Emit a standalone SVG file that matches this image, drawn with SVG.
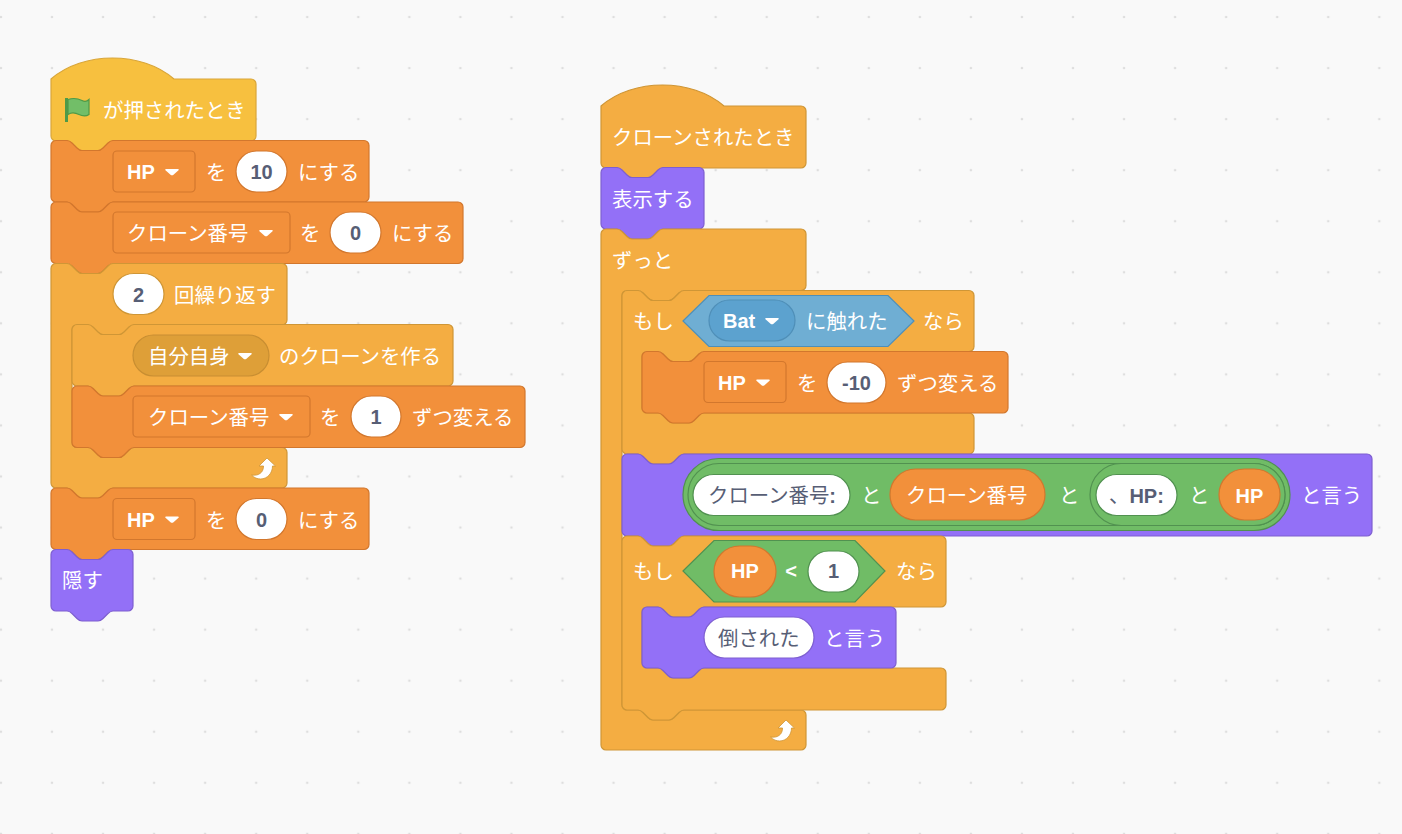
<svg xmlns="http://www.w3.org/2000/svg" xmlns:xlink="http://www.w3.org/1999/xlink" width="1402" height="834" viewBox="0 0 1402 834">
<style>
text{font-family:"Liberation Sans","Noto Sans CJK JP",sans-serif;font-size:20.4px;fill:#fff;transform:translateY(1px)}
.b{font-weight:700;font-size:20px;transform:none}
tspan.b{font-size:20px}
.d{fill:#575E75}
.m{text-anchor:middle}
.hat{fill:#F7C03F;stroke:#D9A63A}
.ctl{fill:#F4AD42;stroke:#CF9636}
.var{fill:#F2903B;stroke:#D2772D}
.lk{fill:#9370F7;stroke:#7E5FD0}
.grn{fill:#70BC66;stroke:#519150}
.sen{fill:#6FAED3;stroke:#4F8FB8}
.pill{fill:#5CA2CF;stroke:#4F8FB8}
.menu{fill:#DE9F38;stroke:#C88E32}
.wo{fill:#fff;stroke:#D2772D}
.wc{fill:#fff;stroke:#CF9636}
.wg{fill:#fff;stroke:#519150}
.wp{fill:#fff;stroke:#7E5FD0}
path,rect{stroke-width:1.2}
</style>
<defs>
<pattern id="grid" x="26.5" y="-8.5" width="51.05" height="51.05" patternUnits="userSpaceOnUse"><circle cx="25.5" cy="25.5" r="1.3" fill="#DEDEDE"/></pattern>
<path id="tri" d="M-6-3H6C6.800-3 7-2.200 6.500-1.700L1.500 2.700Q0 4-1.500 2.700L-6.500-1.700C-7-2.200-6.800-3-6-3z" fill="#fff" style="stroke:none"/>
<path id="arrow" d="M267 458L275.500 466H272.500C272.500 473 267.500 479 260.500 479C257.500 479 254.500 478 251.500 475C255.500 475.500 258 475 260 473.500C262.500 472 263.500 469 263.500 466H259Z" fill="#fff" stroke="#CF9636" stroke-linejoin="round" style="stroke-width:.8"/>
</defs>
<rect width="1402" height="834" fill="#F9F9F9" style="stroke:none"/>
<rect width="1402" height="834" fill="url(#grid)" style="stroke:none"/>

<g id="stack-left">
<g id="hat-flag">
<path class="hat" d="M51 79c32-28 91-28 123 0H251a5 5 0 0 1 5 5V136a5 5 0 0 1-5 5H113c-2.500 0-3.800 1.300-5 2.500l-5 5c-1.300 1.300-2.500 2.500-5 2.500h-16c-2.500 0-3.800-1.300-5-2.500l-5-5c-1.300-1.300-2.500-2.500-5-2.500H56a5 5 0 0 1-5-5z"/>
<path d="M68 99.500c6-2 10-1 14 1c3 1.500 5 1 7-1V114.500c-3 2-6 2-10 0c-4-2-8-2-11 0z" fill="#72BE68" stroke="#4E9A48"/>
<path d="M66.500 98V122" stroke="#4E9A48" style="stroke-width:3" fill="none"/>
<text x="103" y="117">が押されたとき</text>
</g>
<g id="set-hp-10">
<path class="var" d="M51 145.500a5 5 0 0 1 5-5h11c2.500 0 3.800 1.300 5 2.500l5 5c1.300 1.300 2.500 2.500 5 2.500h16c2.500 0 3.800-1.300 5-2.500l5-5c1.300-1.300 2.500-2.500 5-2.500H364a5 5 0 0 1 5 5V197a5 5 0 0 1-5 5H113c-2.500 0-3.800 1.300-5 2.500l-5 5c-1.300 1.300-2.500 2.500-5 2.500h-16c-2.500 0-3.800-1.300-5-2.500l-5-5c-1.300-1.300-2.500-2.500-5-2.500H56a5 5 0 0 1-5-5z"/>
<rect class="var" x="113" y="151" width="82" height="41" rx="4"/>
<text class="b" x="127" y="179">HP</text><use href="#tri" x="172" y="172"/>
<text x="206" y="179">を</text>
<rect class="wo" x="236" y="151" width="51" height="41" rx="20.500"/>
<text class="b d m" x="261.500" y="179">10</text>
<text x="298" y="179">にする</text>
</g>
<g id="set-clone-0">
<path class="var" d="M51 207a5 5 0 0 1 5-5h11c2.500 0 3.800 1.300 5 2.500l5 5c1.300 1.300 2.500 2.500 5 2.500h16c2.500 0 3.800-1.300 5-2.500l5-5c1.300-1.300 2.500-2.500 5-2.500H458a5 5 0 0 1 5 5V258.500a5 5 0 0 1-5 5H113c-2.500 0-3.800 1.300-5 2.500l-5 5c-1.300 1.300-2.500 2.500-5 2.500h-16c-2.500 0-3.800-1.300-5-2.500l-5-5c-1.300-1.300-2.500-2.500-5-2.500H56a5 5 0 0 1-5-5z"/>
<rect class="var" x="113" y="212" width="177" height="41" rx="4"/>
<text x="127" y="240">クローン番号</text><use href="#tri" x="266" y="233"/>
<text x="300" y="240">を</text>
<rect class="wo" x="330" y="212" width="51" height="41" rx="20.500"/>
<text class="b d m" x="355.500" y="240">0</text>
<text x="392" y="240">にする</text>
</g>
<g id="repeat">
<path class="ctl" d="M51 268.500a5 5 0 0 1 5-5h11c2.500 0 3.800 1.300 5 2.500l5 5c1.300 1.300 2.500 2.500 5 2.500h16c2.500 0 3.800-1.300 5-2.500l5-5c1.300-1.300 2.500-2.500 5-2.500H282a5 5 0 0 1 5 5V320a5 5 0 0 1-5 5H134c-2.500 0-3.800 1.300-5 2.500l-5 5c-1.300 1.300-2.500 2.500-5 2.500h-16c-2.500 0-3.800-1.300-5-2.500l-5-5c-1.300-1.300-2.500-2.500-5-2.500H77a5 5 0 0 0-5 5V442.500a5 5 0 0 0 5 5h11c2.500 0 3.800 1.300 5 2.500l5 5c1.300 1.300 2.500 2.500 5 2.500h16c2.500 0 3.800-1.300 5-2.500l5-5c1.300-1.300 2.500-2.500 5-2.500H282a5 5 0 0 1 5 5V483a5 5 0 0 1-5 5H113c-2.500 0-3.800 1.300-5 2.500l-5 5c-1.300 1.300-2.500 2.500-5 2.500h-16c-2.500 0-3.800-1.300-5-2.500l-5-5c-1.300-1.300-2.500-2.500-5-2.500H56a5 5 0 0 1-5-5z"/>
<rect class="wc" x="113" y="273.500" width="51" height="41" rx="20.500"/>
<text class="b d m" x="138.500" y="301.500">2</text>
<text x="174" y="302">回繰り返す</text>
<use href="#arrow"/>
</g>
<g id="create-clone">
<path class="ctl" d="M72 329.500a5 5 0 0 1 5-5h11c2.500 0 3.800 1.300 5 2.500l5 5c1.300 1.300 2.500 2.500 5 2.500h16c2.500 0 3.800-1.300 5-2.500l5-5c1.300-1.300 2.500-2.500 5-2.500H448a5 5 0 0 1 5 5V381a5 5 0 0 1-5 5H134c-2.500 0-3.800 1.300-5 2.500l-5 5c-1.300 1.300-2.500 2.500-5 2.500h-16c-2.500 0-3.800-1.300-5-2.500l-5-5c-1.300-1.300-2.500-2.500-5-2.500H77a5 5 0 0 1-5-5z"/>
<rect class="menu" x="133" y="335" width="136" height="41" rx="20.500"/>
<text x="148" y="363">自分自身</text><use href="#tri" x="245" y="356"/>
<text x="279" y="363">のクローンを作る</text>
</g>
<g id="change-clone">
<path class="var" d="M72 391a5 5 0 0 1 5-5h11c2.500 0 3.800 1.300 5 2.500l5 5c1.300 1.300 2.500 2.500 5 2.500h16c2.500 0 3.800-1.300 5-2.500l5-5c1.300-1.300 2.500-2.500 5-2.500H520a5 5 0 0 1 5 5V442.500a5 5 0 0 1-5 5H134c-2.500 0-3.800 1.300-5 2.500l-5 5c-1.300 1.300-2.500 2.500-5 2.500h-16c-2.500 0-3.800-1.300-5-2.500l-5-5c-1.300-1.300-2.500-2.500-5-2.500H77a5 5 0 0 1-5-5z"/>
<rect class="var" x="133" y="396" width="177" height="41" rx="4"/>
<text x="148" y="424">クローン番号</text><use href="#tri" x="286" y="417"/>
<text x="320" y="424">を</text>
<rect class="wo" x="351" y="396" width="50" height="41" rx="20.500"/>
<text class="b d m" x="376" y="424">1</text>
<text x="412" y="424">ずつ変える</text>
</g>
<g id="set-hp-0">
<path class="var" d="M51 493a5 5 0 0 1 5-5h11c2.500 0 3.800 1.300 5 2.500l5 5c1.300 1.300 2.500 2.500 5 2.500h16c2.500 0 3.800-1.300 5-2.500l5-5c1.300-1.300 2.500-2.500 5-2.500H364a5 5 0 0 1 5 5V544.500a5 5 0 0 1-5 5H113c-2.500 0-3.800 1.300-5 2.500l-5 5c-1.300 1.300-2.500 2.500-5 2.500h-16c-2.500 0-3.800-1.300-5-2.500l-5-5c-1.300-1.300-2.500-2.500-5-2.500H56a5 5 0 0 1-5-5z"/>
<rect class="var" x="113" y="498.500" width="82" height="41" rx="4"/>
<text class="b" x="127" y="526.500">HP</text><use href="#tri" x="172" y="519.500"/>
<text x="206" y="527">を</text>
<rect class="wo" x="236" y="498.500" width="51" height="41" rx="20.500"/>
<text class="b d m" x="261.500" y="526.500">0</text>
<text x="298" y="527">にする</text>
</g>
<g id="hide">
<path class="lk" d="M51 554.500a5 5 0 0 1 5-5h11c2.500 0 3.800 1.300 5 2.500l5 5c1.300 1.300 2.500 2.500 5 2.500h16c2.500 0 3.800-1.300 5-2.500l5-5c1.300-1.300 2.500-2.500 5-2.500H128a5 5 0 0 1 5 5V606a5 5 0 0 1-5 5H113c-2.500 0-3.800 1.300-5 2.500l-5 5c-1.300 1.300-2.500 2.500-5 2.500h-16c-2.500 0-3.800-1.300-5-2.500l-5-5c-1.300-1.300-2.500-2.500-5-2.500H56a5 5 0 0 1-5-5z"/>
<text x="62" y="587">隠す</text>
</g>
</g>

<g id="stack-right">
<g id="hat-clone">
<path class="ctl" d="M601 106c32-28 91-28 123 0H801a5 5 0 0 1 5 5V163a5 5 0 0 1-5 5H663c-2.500 0-3.800 1.300-5 2.500l-5 5c-1.300 1.300-2.500 2.500-5 2.500h-16c-2.500 0-3.800-1.300-5-2.500l-5-5c-1.300-1.300-2.500-2.500-5-2.500H606a5 5 0 0 1-5-5z"/>
<text x="612" y="144">クローンされたとき</text>
</g>
<g id="show">
<path class="lk" d="M601 172.500a5 5 0 0 1 5-5h11c2.500 0 3.800 1.300 5 2.500l5 5c1.300 1.300 2.500 2.500 5 2.500h16c2.500 0 3.800-1.300 5-2.500l5-5c1.300-1.300 2.500-2.500 5-2.500H699a5 5 0 0 1 5 5V224a5 5 0 0 1-5 5H663c-2.500 0-3.800 1.300-5 2.500l-5 5c-1.300 1.300-2.500 2.500-5 2.500h-16c-2.500 0-3.800-1.300-5-2.500l-5-5c-1.300-1.300-2.500-2.500-5-2.500H606a5 5 0 0 1-5-5z"/>
<text x="612" y="206">表示する</text>
</g>
<g id="forever">
<path class="ctl" d="M601 234a5 5 0 0 1 5-5h11c2.500 0 3.800 1.300 5 2.500l5 5c1.300 1.300 2.500 2.500 5 2.500h16c2.500 0 3.800-1.300 5-2.500l5-5c1.300-1.300 2.500-2.500 5-2.500H801a5 5 0 0 1 5 5V285.500a5 5 0 0 1-5 5H684c-2.500 0-3.800 1.300-5 2.500l-5 5c-1.300 1.300-2.500 2.500-5 2.500h-16c-2.500 0-3.800-1.300-5-2.500l-5-5c-1.300-1.300-2.500-2.500-5-2.500H627a5 5 0 0 0-5 5V705a5 5 0 0 0 5 5h11c2.500 0 3.800 1.300 5 2.500l5 5c1.300 1.300 2.500 2.500 5 2.500h16c2.500 0 3.800-1.300 5-2.500l5-5c1.300-1.300 2.500-2.500 5-2.500H801a5 5 0 0 1 5 5V745a5 5 0 0 1-5 5H606a5 5 0 0 1-5-5z"/>
<text x="612" y="267">ずっと</text>
<use href="#arrow" x="519" y="262"/>
</g>
<g id="if-touching">
<path class="ctl" d="M622 295.500a5 5 0 0 1 5-5h11c2.500 0 3.800 1.300 5 2.500l5 5c1.300 1.300 2.500 2.500 5 2.500h16c2.500 0 3.800-1.300 5-2.500l5-5c1.300-1.300 2.500-2.500 5-2.500H969a5 5 0 0 1 5 5V346.500a5 5 0 0 1-5 5H704c-2.500 0-3.800 1.300-5 2.500l-5 5c-1.300 1.300-2.500 2.500-5 2.500h-16c-2.500 0-3.800-1.300-5-2.500l-5-5c-1.300-1.300-2.500-2.500-5-2.500H647a5 5 0 0 0-5 5V408a5 5 0 0 0 5 5h11c2.500 0 3.800 1.300 5 2.500l5 5c1.300 1.300 2.500 2.500 5 2.500h16c2.500 0 3.800-1.300 5-2.500l5-5c1.300-1.300 2.500-2.500 5-2.500H969a5 5 0 0 1 5 5V449a5 5 0 0 1-5 5H684c-2.500 0-3.800 1.300-5 2.500l-5 5c-1.300 1.300-2.500 2.500-5 2.500h-16c-2.500 0-3.800-1.300-5-2.500l-5-5c-1.300-1.300-2.500-2.500-5-2.500H627a5 5 0 0 1-5-5z"/>
<text x="633" y="328">もし</text>
<path class="sen" d="M683 321L709 295.500H888L914 321L888 346.500H709z"/>
<rect class="pill" x="709" y="300" width="86" height="41" rx="20.500"/>
<text class="b" x="723" y="328">Bat</text><use href="#tri" x="772" y="321"/>
<text x="806" y="328">に触れた</text>
<text x="923" y="328">なら</text>
</g>
<g id="change-hp">
<path class="var" d="M642 356.500a5 5 0 0 1 5-5h11c2.500 0 3.800 1.300 5 2.500l5 5c1.300 1.300 2.500 2.500 5 2.500h16c2.500 0 3.800-1.300 5-2.500l5-5c1.300-1.300 2.500-2.500 5-2.500H1003a5 5 0 0 1 5 5V408a5 5 0 0 1-5 5H704c-2.500 0-3.800 1.300-5 2.500l-5 5c-1.300 1.300-2.500 2.500-5 2.500h-16c-2.500 0-3.800-1.300-5-2.500l-5-5c-1.300-1.300-2.500-2.500-5-2.500H647a5 5 0 0 1-5-5z"/>
<rect class="var" x="704" y="361.500" width="82" height="41" rx="4"/>
<text class="b" x="718" y="389.500">HP</text><use href="#tri" x="763" y="382.500"/>
<text x="797" y="390">を</text>
<rect class="wo" x="827" y="362" width="59" height="41" rx="20.500"/>
<text class="b d m" x="856.500" y="390">-10</text>
<text x="897" y="390">ずつ変える</text>
</g>
<g id="say-join">
<path class="lk" d="M622 459a5 5 0 0 1 5-5h11c2.500 0 3.800 1.300 5 2.500l5 5c1.300 1.300 2.500 2.500 5 2.500h16c2.500 0 3.800-1.300 5-2.500l5-5c1.300-1.300 2.500-2.500 5-2.500H1367a5 5 0 0 1 5 5V531a5 5 0 0 1-5 5H684c-2.500 0-3.800 1.300-5 2.500l-5 5c-1.300 1.300-2.500 2.500-5 2.500h-16c-2.500 0-3.800-1.300-5-2.500l-5-5c-1.300-1.300-2.500-2.500-5-2.500H627a5 5 0 0 1-5-5z"/>
<rect class="grn" x="683" y="458.500" width="607" height="72" rx="36"/>
<rect class="grn" x="688" y="463.500" width="597" height="62" rx="31"/>
<rect class="wg" x="693" y="474.500" width="157" height="41" rx="20.500"/>
<text class="d" x="708" y="502">クローン番号<tspan class="b">:</tspan></text>
<text x="861" y="502">と</text>
<rect class="var" x="890" y="469" width="155" height="51" rx="25.500"/>
<text x="906" y="502">クローン番号</text>
<text x="1059" y="502">と</text>
<rect class="grn" x="1090" y="463.500" width="195" height="62" rx="31"/>
<rect class="wg" x="1096" y="474.500" width="81" height="41" rx="20.500"/>
<text class="d" x="1109" y="502">、<tspan class="b">HP:</tspan></text>
<text x="1189" y="502">と</text>
<rect class="var" x="1219" y="469" width="61" height="51" rx="25.500"/>
<text class="b m" x="1249.500" y="503">HP</text>
<text x="1301" y="502">と言う</text>
</g>
<g id="if-less">
<path class="ctl" d="M622 541a5 5 0 0 1 5-5h11c2.500 0 3.800 1.300 5 2.500l5 5c1.300 1.300 2.500 2.500 5 2.500h16c2.500 0 3.800-1.300 5-2.500l5-5c1.300-1.300 2.500-2.500 5-2.500H941a5 5 0 0 1 5 5V602a5 5 0 0 1-5 5H704c-2.500 0-3.800 1.300-5 2.500l-5 5c-1.300 1.300-2.500 2.500-5 2.500h-16c-2.500 0-3.800-1.300-5-2.500l-5-5c-1.300-1.300-2.500-2.500-5-2.500H647a5 5 0 0 0-5 5V663a5 5 0 0 0 5 5h11c2.500 0 3.800 1.300 5 2.500l5 5c1.300 1.300 2.500 2.500 5 2.500h16c2.500 0 3.800-1.300 5-2.500l5-5c1.300-1.300 2.500-2.500 5-2.500H941a5 5 0 0 1 5 5V705a5 5 0 0 1-5 5H684c-2.500 0-3.800 1.300-5 2.500l-5 5c-1.300 1.300-2.500 2.500-5 2.500h-16c-2.500 0-3.800-1.300-5-2.500l-5-5c-1.300-1.300-2.500-2.500-5-2.500H627a5 5 0 0 1-5-5z"/>
<text x="633" y="578">もし</text>
<path class="grn" d="M683 571L714 540.500H855L885 571L855 602H714z"/>
<rect class="var" x="714" y="546" width="62" height="51" rx="25.500"/>
<text class="b m" x="745" y="578">HP</text>
<text class="b m" x="791" y="578">&lt;</text>
<rect class="wg" x="808" y="551" width="51" height="41" rx="20.500"/>
<text class="b d m" x="833.500" y="578">1</text>
<text x="896" y="578">なら</text>
</g>
<g id="say-defeated">
<path class="lk" d="M642 612a5 5 0 0 1 5-5h11c2.500 0 3.800 1.300 5 2.500l5 5c1.300 1.300 2.500 2.500 5 2.500h16c2.500 0 3.800-1.300 5-2.500l5-5c1.300-1.300 2.500-2.500 5-2.500H891a5 5 0 0 1 5 5V663a5 5 0 0 1-5 5H704c-2.500 0-3.800 1.300-5 2.500l-5 5c-1.300 1.300-2.500 2.500-5 2.500h-16c-2.500 0-3.800-1.300-5-2.500l-5-5c-1.300-1.300-2.500-2.500-5-2.500H647a5 5 0 0 1-5-5z"/>
<rect class="wp" x="704" y="617" width="110" height="41" rx="20.500"/>
<text class="d" x="718" y="645">倒された</text>
<text x="824" y="645">と言う</text>
</g>
</g>
</svg>
